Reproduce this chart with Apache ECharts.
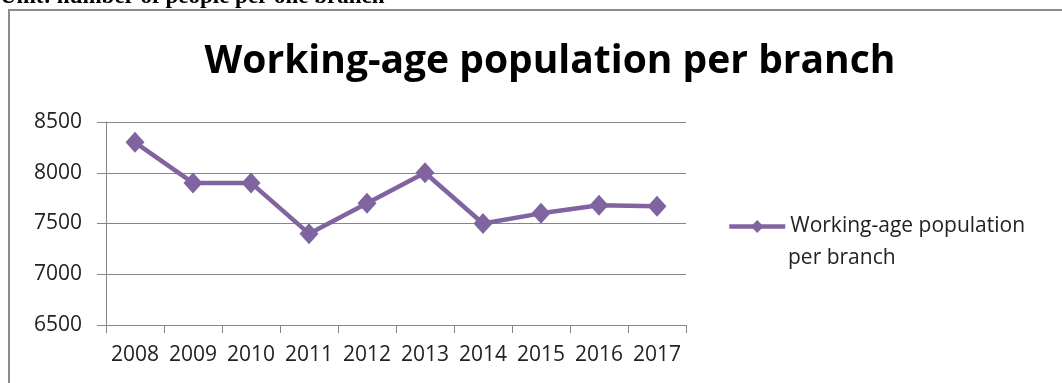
<!DOCTYPE html>
<html>
<head>
<meta charset="utf-8">
<script src="https://cdn.jsdelivr.net/npm/echarts@6/dist/echarts.min.js"></script>
<style>
html,body{margin:0;padding:0;background:#fff;}
#chart{width:1062px;height:383px;}
</style>
</head>
<body>
<div id="chart"></div>
<script>
const categories = ['2008','2009','2010','2011','2012','2013','2014','2015','2016','2017'];
const values = [8300, 7900, 7900, 7400, 7700, 8000, 7500, 7600, 7680, 7670];
const seriesName = 'Working-age population per branch';
const legendLines = ['Working-age population', 'per branch'];
const titleText = 'Working-age population per branch';
const unitText = 'Unit: number of people per one branch';

const chart = echarts.init(document.getElementById('chart'), null, {renderer: 'canvas'});
chart.setOption({
  animation: false,
  backgroundColor: '#ffffff',
  title: {
    text: titleText,
    left: 545, top: 37, textAlign: 'center',
    textStyle: {fontFamily: 'Open Sans', fontWeight: 'bold', fontSize: 39, color: '#000'}
  },
  graphic: [
    {type: 'rect', shape: {x: 9, y: 10, width: 1100, height: 420},
     style: {fill: 'none', stroke: '#8c8c8c', lineWidth: 2}, z: -1},
    {type: 'text', x: 0, y: -3,
     style: {text: unitText, font: 'bold 23px "Liberation Serif"', fill: '#000', verticalAlign: 'middle'}},
    {type: 'text', x: 788, y: 258,
     style: {text: legendLines[1], font: '21px "Open Sans"', fill: '#222', verticalAlign: 'middle'}}
  ],
  legend: {
    left: 727, top: 216, padding: 0,
    itemWidth: 56, itemHeight: 16,
    itemGap: 4,
    lineStyle: {width: 4.5},
    formatter: () => legendLines[0],
    textStyle: {fontFamily: 'Open Sans', fontSize: 21, color: '#222'},
    data: [seriesName]
  },
  grid: {left: 106, right: 376, top: 122, bottom: 58, containLabel: false},
  xAxis: {
    type: 'category', data: categories, boundaryGap: true,
    axisLine: {show: true, lineStyle: {color: '#868686', width: 1}},
    axisTick: {show: true, length: 8, lineStyle: {color: '#868686'}},
    axisLabel: {fontFamily: 'Open Sans', fontSize: 21, color: '#222', margin: 20, interval: 0}
  },
  yAxis: {
    type: 'value', min: 6500, max: 8500, interval: 500,
    axisLine: {show: true, lineStyle: {color: '#868686', width: 1}},
    axisTick: {show: true, length: 9, lineStyle: {color: '#868686'}},
    axisLabel: {fontFamily: 'Open Sans', fontSize: 21, color: '#222', margin: 24, formatter: v => String(v)},
    splitLine: {show: true, lineStyle: {color: '#868686', width: 1}}
  },
  series: [{
    name: seriesName, type: 'line', data: values,
    symbol: 'diamond', symbolSize: [19, 21],
    lineStyle: {color: '#8064A2', width: 4.5},
    itemStyle: {color: '#8064A2'}
  }]
});
</script>
</body>
</html>
